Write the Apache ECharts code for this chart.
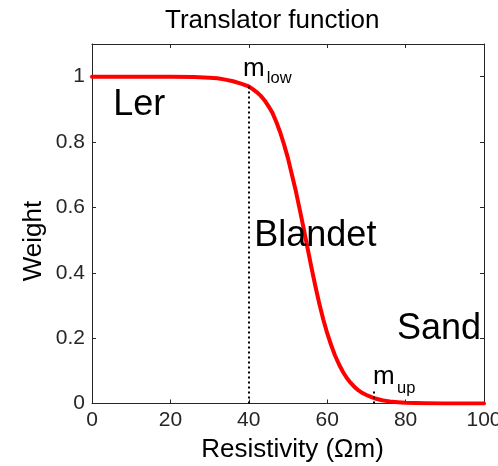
<!DOCTYPE html>
<html>
<head>
<meta charset="utf-8">
<script src="https://cdn.jsdelivr.net/npm/echarts@6/dist/echarts.min.js"></script>
<style>
html,body{margin:0;padding:0;background:#fff;}
#chart{width:498px;height:466px;}
</style>
</head>
<body>
<div id="chart"></div>
<script>
// ---- data ----
const titleText = 'Translator function';
const xName = 'Resistivity (\u03A9m)';
const yName = 'Weight';
const resistivity = [0, 10, 20, 26, 30, 32, 34, 36, 38, 40, 41, 42, 43, 44, 45, 46, 47, 48, 49, 50, 51, 52, 53, 54, 55, 56, 57, 58, 59, 60, 61, 62, 63, 64, 65, 66, 67, 68, 69, 70, 71, 72, 73, 74, 75, 76, 78, 80, 85, 90, 100];
const weight = [1, 1, 1, 0.999, 0.997, 0.995, 0.991, 0.986, 0.979, 0.97, 0.962, 0.953, 0.942, 0.928, 0.91, 0.89, 0.862, 0.83, 0.792, 0.75, 0.70, 0.65, 0.593, 0.535, 0.475, 0.415, 0.358, 0.305, 0.257, 0.215, 0.179, 0.147, 0.12, 0.097, 0.078, 0.063, 0.05, 0.04, 0.032, 0.026, 0.021, 0.016, 0.013, 0.01, 0.008, 0.006, 0.004, 0.0025, 0.001, 0.0003, 0];
const mLow = 40, mLowWeight = 0.97;
const mUp = 72, mUpTop = 0.04;
const xTicks = [0, 20, 40, 60, 80, 100];
const yTicks = [0, 0.2, 0.4, 0.6, 0.8, 1];
const regionLabels = [
  {name: 'Ler', coord: [5.4, 0.857]},
  {name: 'Blandet', coord: [41.4, 0.456]},
  {name: 'Sand', coord: [77.8, 0.173]}
];
const mLabels = [
  {name: 'm', coord: [38.5, 0.985], size: 26},
  {name: 'low', coord: [44.6, 0.968], size: 16.5},
  {name: 'm', coord: [71.7, 0.041], size: 26},
  {name: 'up', coord: [77.8, 0.021], size: 16.5}
];

const FONT = '"Liberation Sans", Arial, sans-serif';
const AX = '#262626';
const chart = echarts.init(document.getElementById('chart'), null, {renderer: 'canvas'});

const axisCommon = {
  axisLine: {show: true, onZero: false, lineStyle: {color: AX, width: 1}},
  axisTick: {show: true, inside: true, length: 4, lineStyle: {color: AX}},
  splitLine: {show: false}
};

const option = {
  backgroundColor: '#fff',
  animation: false,
  title: {
    text: titleText, left: 160, top: 3,
    textStyle: {fontFamily: FONT, fontSize: 26, fontWeight: 'normal', color: '#000'}
  },
  grid: {left: 92, top: 44, width: 392, height: 359.5, containLabel: false, outerBoundsMode: 'none'},
  xAxis: [
    Object.assign({
      type: 'value', min: xTicks[0], max: xTicks[xTicks.length - 1], interval: xTicks[1] - xTicks[0],
      position: 'bottom',
      name: xName, nameLocation: 'middle', nameGap: 33,
      nameTextStyle: {fontFamily: FONT, fontSize: 26, color: '#000', padding: [0, 0, 0, 9]},
      axisLabel: {fontFamily: FONT, fontSize: 21, color: AX, margin: 6}
    }, axisCommon),
    Object.assign({
      type: 'value', min: xTicks[0], max: xTicks[xTicks.length - 1], interval: xTicks[1] - xTicks[0],
      position: 'top', axisLabel: {show: false}
    }, axisCommon)
  ],
  yAxis: [
    Object.assign({
      type: 'value', min: yTicks[0], max: 1.1, interval: yTicks[1] - yTicks[0],
      position: 'left',
      axisLabel: {fontFamily: FONT, fontSize: 21, color: AX, margin: 7, showMaxLabel: false,
        formatter: v => (v > 1.05 ? '' : String(Math.round(v * 10) / 10))}
    }, axisCommon),
    Object.assign({
      type: 'value', min: yTicks[0], max: 1.1, interval: yTicks[1] - yTicks[0],
      position: 'right', axisLabel: {show: false}
    }, axisCommon)
  ],
  graphic: [{
    type: 'text', x: 34, y: 241, rotation: Math.PI / 2,
    style: {text: yName, font: '26px ' + FONT, fill: '#000', align: 'center', verticalAlign: 'middle'}
  }],
  series: [
    {
      type: 'line', xAxisIndex: 0, yAxisIndex: 0,
      data: [],
      symbol: 'none', silent: true,
      markLine: {
        silent: true, symbol: 'none', animation: false,
        label: {show: false},
        lineStyle: {color: '#000', width: 2, type: [2, 3]},
        data: [
          [{coord: [mLow, 0]}, {coord: [mLow, mLowWeight]}],
          [{coord: [mUp, 0]}, {coord: [mUp, mUpTop]}]
        ]
      }
    },
    {
      type: 'line', xAxisIndex: 0, yAxisIndex: 0,
      data: resistivity.map((x, i) => [x, weight[i]]),
      symbol: 'none', smooth: false,
      lineStyle: {color: '#ff0000', width: 4, join: 'round', cap: 'round'},
      z: 3,
      markPoint: {
        silent: true, symbol: 'circle', symbolSize: 0, animation: false,
        data: regionLabels.map(r => ({
          coord: r.coord,
          label: {show: true, position: [0, 0], align: 'left', verticalAlign: 'bottom',
            formatter: r.name, fontFamily: FONT, fontSize: 36, color: '#000'}
        })).concat(mLabels.map(r => ({
          coord: r.coord,
          label: {show: true, position: [0, 0], align: 'left', verticalAlign: 'bottom',
            formatter: r.name, fontFamily: FONT, fontSize: r.size, color: '#000'}
        })))
      }
    },
    {
      type: 'line', xAxisIndex: 1, yAxisIndex: 1, data: [], symbol: 'none', silent: true
    }
  ]
};
chart.setOption(option);
</script>
</body>
</html>
